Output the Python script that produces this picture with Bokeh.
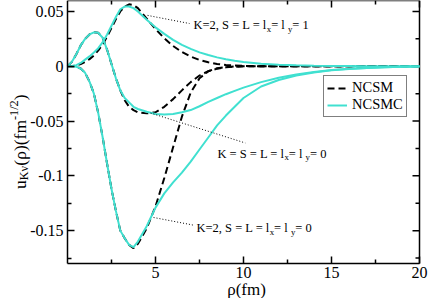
import math
from bokeh.plotting import figure
from bokeh.models import (Label, LinearAxis, FixedTicker, Range1d, Legend,
                          LegendItem)
from bokeh.embed import file_html
from bokeh.resources import INLINE

# ---------------- data ----------------
rho = [0, 0.25, 0.5, 0.75, 1.0, 1.25, 1.5, 1.75, 2.0, 2.25, 2.5, 2.75, 3.0,
       3.25, 3.5, 3.75, 4.0, 4.5, 5, 5.5, 6, 6.5, 7, 7.5, 8, 8.5, 9, 9.5, 10,
       11, 12, 13, 14, 15, 16, 17, 18, 19, 20]

# K=2, S = L = lx = ly = 1
a_ncsm = [0, 0.0001, 0.0006, 0.002, 0.004, 0.0065, 0.0098, 0.0145, 0.020,
          0.027, 0.035, 0.043, 0.050, 0.0545, 0.0565, 0.0558, 0.053, 0.0435,
          0.034, 0.0255, 0.0185, 0.013, 0.0088, 0.0058, 0.0036, 0.0021,
          0.0012, 0.0006, 0.0003, 0, 0, 0, 0, 0, 0, 0, 0, 0, 0]
a_ncsmc = [0, 0.0002, 0.001, 0.003, 0.006, 0.009, 0.0125, 0.0165, 0.022,
           0.029, 0.037, 0.045, 0.052, 0.0545, 0.0545, 0.053, 0.050, 0.0425,
           0.0355, 0.0295, 0.024, 0.0195, 0.0158, 0.0127, 0.0102, 0.0081,
           0.0064, 0.005, 0.0039, 0.0023, 0.0014, 0.0008, 0.0005, 0.0003,
           0.0002, 0.0001, 0.0001, 0, 0]

# K = S = L = lx = ly = 0
b_ncsm = [0, 0.004, 0.011, 0.019, 0.025, 0.029, 0.031, 0.0305, 0.026, 0.015,
          0.002, -0.011, -0.022, -0.031, -0.037, -0.040, -0.042, -0.043,
          -0.042, -0.037, -0.030, -0.022, -0.0145, -0.0085, -0.0045, -0.0022,
          -0.001, -0.0004, -0.0001, 0, 0, 0, 0, 0, 0, 0, 0, 0, 0]
b_ncsmc = [0, 0.004, 0.011, 0.019, 0.025, 0.029, 0.031, 0.0305, 0.026, 0.015,
           0.002, -0.011, -0.022, -0.029, -0.033, -0.037, -0.039, -0.0415,
           -0.0435, -0.044, -0.0435, -0.042, -0.040, -0.0365, -0.0325, -0.029,
           -0.0255, -0.0225, -0.0195, -0.0145, -0.0105, -0.0075, -0.0052,
           -0.0035, -0.0023, -0.0015, -0.0009, -0.0005, -0.0002]

# K=2, S = L = lx = ly = 0
c_ncsm = [0, -0.0001, -0.0005, -0.002, -0.006, -0.014, -0.025, -0.043,
          -0.065, -0.089, -0.112, -0.132, -0.150, -0.157, -0.163, -0.166,
          -0.162, -0.148, -0.128, -0.102, -0.074, -0.046, -0.024, -0.011,
          -0.0045, -0.0018, -0.0007, -0.0002, 0, 0, 0, 0, 0, 0, 0, 0, 0, 0, 0]
c_ncsmc = [0, -0.0001, -0.0005, -0.002, -0.006, -0.014, -0.025, -0.043,
           -0.065, -0.089, -0.112, -0.132, -0.150, -0.157, -0.163, -0.165,
           -0.160, -0.146, -0.129, -0.116, -0.106, -0.097, -0.087, -0.076,
           -0.065, -0.054, -0.045, -0.037, -0.029, -0.0185, -0.0125, -0.0085,
           -0.0057, -0.0037, -0.0024, -0.0015, -0.0009, -0.0005, -0.0002]

series_names = ["NCSM", "NCSMC"]

x_ticks = [5, 10, 15, 20]
x_tick_labels = ["5", "10", "15", "20"]
x_minor = [2.5, 7.5, 12.5, 17.5]
y_ticks = [-0.15, -0.1, -0.05, 0, 0.05]
y_tick_labels = ["-0.15", "-0.1", "-0.05", "0", "0.05"]
y_minor = [-0.175, -0.125, -0.075, -0.025, 0.025]

X_LO, X_HI = 0, 20
Y_LO, Y_HI = -0.18, 0.06

# annotation pointers: (x0, y0, x1, y1) in data space
ann_a = [4.55, 0.0464, 6.93, 0.039]
ann_b = [4.72, -0.0427, 10.1, -0.070]
ann_c = [4.89, -0.138, 7.16, -0.145]

# ---------------- layout (pixels inside the canvas) ----------------
W, H = 429, 298
BOX_L, BOX_R, BOX_T, BOX_B = 67, 419, 0, 263
sx = (X_HI - X_LO) / (BOX_R - BOX_L)
sy = (Y_HI - Y_LO) / (BOX_B - BOX_T)
xr = Range1d(X_LO - BOX_L * sx, X_HI + (W - BOX_R) * sx)
yr = Range1d(Y_LO - (H - BOX_B) * sy, Y_HI + BOX_T * sy)

FONT = "'Liberation Serif'"
CYAN = "#40E0D0"

p = figure(width=W, height=H, output_backend="svg", toolbar_location=None,
           x_range=xr, y_range=yr, min_border=0, title=None,
           x_axis_location=None, y_axis_location=None)
p.xgrid.visible = False
p.ygrid.visible = False
p.background_fill_color = "white"
p.border_fill_color = "white"
p.outline_line_color = None

xt = FixedTicker(ticks=x_ticks, minor_ticks=x_minor)
yt = FixedTicker(ticks=y_ticks, minor_ticks=y_minor)


def style_axis(ax):
    ax.axis_line_color = "black"
    ax.axis_line_width = 1.5
    ax.major_tick_line_color = "black"
    ax.major_tick_line_width = 1.5
    ax.minor_tick_line_color = "black"
    ax.minor_tick_line_width = 1.5
    ax.major_tick_in = 7
    ax.major_tick_out = 0
    ax.minor_tick_in = 4
    ax.minor_tick_out = 0
    ax.major_label_text_font = FONT
    ax.major_label_text_color = "black"
    ax.major_label_text_font_size = "16px"


bx = LinearAxis(ticker=xt, fixed_location=Y_LO, bounds=(X_LO, X_HI),
                major_label_overrides=dict(zip(x_ticks, x_tick_labels)))
style_axis(bx)
bx.major_label_standoff = 3
p.add_layout(bx, "below")
ly = LinearAxis(ticker=yt, fixed_location=X_LO, bounds=(Y_LO, Y_HI),
                major_label_overrides=dict(zip(y_ticks, y_tick_labels)))
style_axis(ly)
ly.major_label_standoff = 4
p.add_layout(ly, "left")

# top and right frame edges with inward ticks
edge_kw = dict(line_color="black", line_width=1.5)
p.line([X_LO, X_HI], [Y_HI, Y_HI], **edge_kw)
p.line([X_HI, X_HI], [Y_LO, Y_HI], **edge_kw)
p.ray(x=x_ticks, y=[Y_HI] * len(x_ticks), length=7, length_units="screen",
      angle=-math.pi / 2, **edge_kw)
p.ray(x=x_minor, y=[Y_HI] * len(x_minor), length=4, length_units="screen",
      angle=-math.pi / 2, **edge_kw)
p.ray(x=[X_HI] * len(y_ticks), y=y_ticks, length=7, length_units="screen",
      angle=math.pi, **edge_kw)
p.ray(x=[X_HI] * len(y_minor), y=y_minor, length=4, length_units="screen",
      angle=math.pi, **edge_kw)

# ---------------- curves ----------------
dash_kw = dict(line_color="black", line_width=2, line_dash="7 4")
cyan_kw = dict(line_color=CYAN, line_width=2)

r_dash = None
r_cyan = None
for ys in (a_ncsm, b_ncsm, c_ncsm):
    r_dash = p.line(rho, ys, **dash_kw)
for ys in (a_ncsmc, b_ncsmc, c_ncsmc):
    r_cyan = p.line(rho, ys, **cyan_kw)

for seg in (ann_a, ann_b, ann_c):
    p.line([seg[0], seg[2]], [seg[1], seg[3]], line_color="black",
           line_width=1, line_dash="1 2")

# ---------------- rich text helper ----------------
TW = {' ': 0.25, ',': 0.25, '=': 0.564, '-': 0.333, '/': 0.278, '(': 0.333,
      ')': 0.333, '0': 0.5, '1': 0.5, '2': 0.5, '5': 0.5, 'K': 0.722,
      'S': 0.556, 'L': 0.611, 'l': 0.278, 'x': 0.5, 'y': 0.5, 'u': 0.5,
      'f': 0.333, 'm': 0.778, 'ρ': 0.5, 'ν': 0.47}


def text_width(s, size):
    return sum(TW.get(ch, 0.5) for ch in s) * size


def rich_label(x, y, parts, size, rotated=False, base_dx=0,
               sub_shift=0.28, sup_shift=0.32):
    off = 0.0
    for txt, kind in parts:
        fs = size if kind == "n" else size * 0.7
        shift = 0.0 if kind == "n" else (-sub_shift * size if kind == "sub" else sup_shift * size)
        if not rotated:
            lab = Label(x=x, y=y, x_offset=off, y_offset=shift, text=txt,
                        text_font=FONT, text_font_size=f"{fs:.1f}px",
                        text_color="black", text_baseline="alphabetic",
                        text_align="left")
        else:
            lab = Label(x=x, y=y, x_offset=base_dx - shift, y_offset=off,
                        text=txt, angle=math.pi / 2, text_font=FONT,
                        text_font_size=f"{fs:.1f}px", text_color="black",
                        text_baseline="alphabetic", text_align="left")
        p.add_layout(lab)
        off += text_width(txt, fs)
    return off


ann_size = 12.5
rich_label(7.16, 0.0373, [("K=2, S = L = l", "n"), ("x", "sub"), (" = l", "n"),
                          ("y", "sub"), (" = 1", "n")], ann_size)
rich_label(8.52, -0.080, [("K = S = L = l", "n"), ("x", "sub"), (" = l", "n"),
                          ("y", "sub"), (" = 0", "n")], ann_size)
rich_label(7.33, -0.148, [("K=2, S = L = l", "n"), ("x", "sub"), (" = l", "n"),
                          ("y", "sub"), (" = 0", "n")], ann_size)

# y axis label (rotated, reads bottom to top), starts level with -0.112
ylab_parts = [("u", "n"), ("Kν", "sub"), ("(ρ)(fm", "n"), ("-1/2", "sup"), (")", "n")]
rich_label(X_LO, -0.112, ylab_parts, 17.5, rotated=True, base_dx=-48)

# x axis label
p.add_layout(Label(x=10, y=Y_LO, x_offset=3, y_offset=-26, text="ρ(fm)",
                   text_font=FONT, text_font_size="17px", text_color="black",
                   text_align="center", text_baseline="alphabetic"))

# ---------------- legend ----------------
legend = Legend(items=[LegendItem(label=series_names[0], renderers=[r_dash]),
                       LegendItem(label=series_names[1], renderers=[r_cyan])],
                location=(323, H - 117), orientation="vertical")
legend.border_line_color = "black"
legend.border_line_width = 1
legend.background_fill_color = "white"
legend.background_fill_alpha = 1
legend.padding = 3
legend.spacing = 0
legend.margin = 0
legend.label_standoff = 5
legend.glyph_width = 20
legend.glyph_height = 14
legend.label_height = 14
legend.label_text_font = FONT
legend.label_text_font_size = "14.5px"
legend.label_text_color = "black"
p.add_layout(legend)

open("out.html", "w").write(file_html(p, INLINE))
